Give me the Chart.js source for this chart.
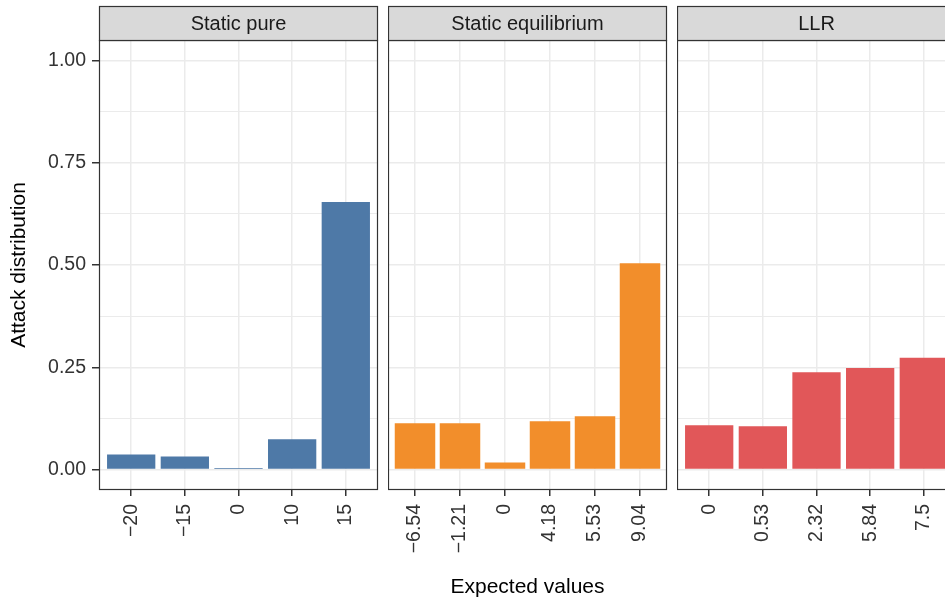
<!DOCTYPE html>
<html><head><meta charset="utf-8">
<script src="https://cdn.jsdelivr.net/npm/chart.js@4/dist/chart.umd.min.js"></script>
<style>
html,body{margin:0;padding:0;overflow:hidden;background:#fff;width:945px;height:600px;position:relative}
canvas{position:absolute;top:0}
</style></head>
<body>
<canvas id="c1" width="380" height="600" style="left:0px"></canvas>
<canvas id="c2" width="281" height="600" style="left:388px"></canvas>
<canvas id="c3" width="281" height="600" style="left:677px"></canvas>
<script>
// ---- data ----
const pureLabels = ['\u221220', '\u221215', '0', '10', '15'];
const pureValues = [0.037, 0.032, 0.004, 0.074, 0.654];
const eqLabels = ['\u22126.54', '\u22121.21', '0', '4.18', '5.53', '9.04'];
const eqValues = [0.113, 0.113, 0.017, 0.118, 0.130, 0.504];
const llrLabels = ['0', '0.53', '2.32', '5.84', '7.5'];
const llrValues = [0.108, 0.106, 0.238, 0.248, 0.273];
const yTickValues = [0, 0.125, 0.25, 0.375, 0.5, 0.625, 0.75, 0.875, 1];
const panelTitles = ['Static pure', 'Static equilibrium', 'LLR'];
const yTitle = 'Attack distribution';
const xTitle = 'Expected values';

const FONT = "'Liberation Sans', Arial, Helvetica, sans-serif";
const colors = ['#4E79A7', '#F28E2B', '#E15759'];
const isMajor = v => Math.abs(v * 4 - Math.round(v * 4)) < 1e-6;

const decor = {
  id: 'decor',
  afterDraw(chart, args, opts) {
    const {ctx, chartArea: a} = chart;
    ctx.save();
    ctx.strokeStyle = '#333333';
    ctx.lineWidth = 1.2;
    ctx.strokeRect(a.left + 0.5, a.top + 0.5, a.right - a.left - 1, a.bottom - a.top - 1);
    const st = 6;
    ctx.fillStyle = '#D9D9D9';
    ctx.fillRect(a.left, st, a.right - a.left, a.top - st);
    ctx.strokeRect(a.left + 0.5, st + 0.5, a.right - a.left - 1, a.top - st);
    ctx.fillStyle = '#1a1a1a';
    ctx.font = '20px ' + FONT;
    ctx.textAlign = 'center';
    ctx.textBaseline = 'middle';
    ctx.fillText(opts.title, (a.left + a.right) / 2, (st + a.top) / 2 + 1);
    ctx.restore();
  }
};

function zeroPad(s) { s.paddingLeft = 0; s.paddingRight = 0; s.paddingTop = 0; s.paddingBottom = 0; }

function makeChart(id, labels, values, idx, showY, showXTitle, padRight) {
  const n = labels.length;
  return new Chart(document.getElementById(id), {
    type: 'bar',
    data: {
      datasets: [{
        data: values.map((v, i) => ({x: i, y: v})),
        backgroundColor: colors[idx],
        borderWidth: 0,
        barPercentage: 0.9,
        categoryPercentage: 1.0
      }]
    },
    options: {
      responsive: false,
      animation: false,
      devicePixelRatio: 1,
      layout: {padding: {left: 0, right: padRight, top: 40, bottom: 0}},
      plugins: {legend: {display: false}, tooltip: {enabled: false}, decor: {title: panelTitles[idx]}},
      scales: {
        x: {
          type: 'linear',
          min: -0.6,
          max: n - 1 + 0.6,
          offset: false,
          afterBuildTicks: s => { s.ticks = labels.map((_, i) => ({value: i})); },
          afterFit: s => { s.height = 110; zeroPad(s); },
          grid: {offset: false, color: '#EBEBEB', lineWidth: 1.5, tickColor: '#333333', tickLength: 6, drawTicks: true},
          border: {display: false},
          ticks: {
            autoSkip: false, maxRotation: 90, minRotation: 90, padding: 8,
            color: '#333333', font: {family: FONT, size: 19.5},
            callback: v => labels[Math.round(v)]
          },
          title: {display: showXTitle, text: xTitle, color: '#000', font: {family: FONT, size: 21}, padding: {top: 0, bottom: 0}}
        },
        y: {
          type: 'linear',
          min: -0.05,
          max: 1.05,
          afterBuildTicks: s => { s.ticks = yTickValues.map(v => ({value: v})); },
          afterFit: s => { s.width = showY ? 99 : 0; zeroPad(s); },
          grid: {
            color: '#EBEBEB',
            lineWidth: c => (c.tick && isMajor(c.tick.value)) ? 1.5 : 1.1,
            drawTicks: showY,
            tickLength: 7,
            tickColor: c => (c.tick && isMajor(c.tick.value)) ? '#333333' : 'rgba(0,0,0,0)'
          },
          border: {display: false},
          ticks: {
            display: showY, autoSkip: false, padding: 6,
            color: '#333333', font: {family: FONT, size: 19.5},
            callback: v => isMajor(v) ? v.toFixed(2) : ''
          },
          title: {display: showY, text: yTitle, color: '#000', font: {family: FONT, size: 21}, padding: {top: 7, bottom: 0}}
        }
      }
    },
    plugins: [decor]
  });
}

makeChart('c1', pureLabels, pureValues, 0, true, false, 2);
makeChart('c2', eqLabels, eqValues, 1, false, true, 2);
makeChart('c3', llrLabels, llrValues, 2, false, false, 2);
</script>
</body></html>
